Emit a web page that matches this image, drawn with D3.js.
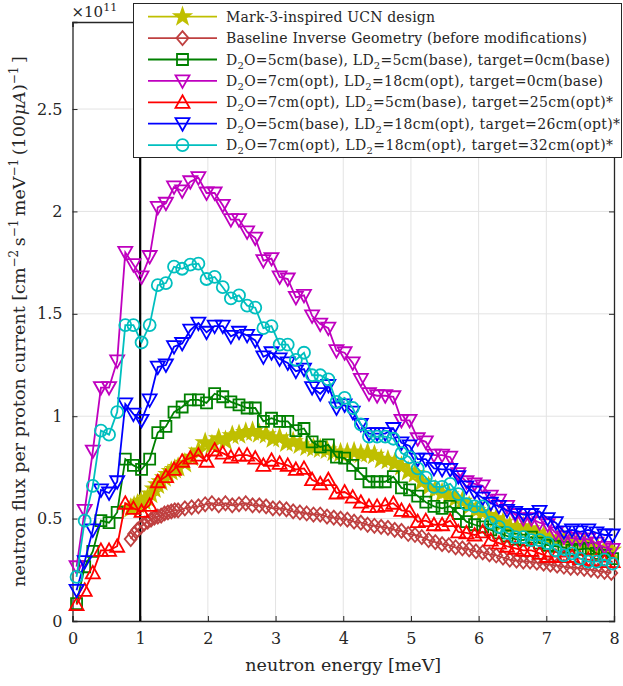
<!DOCTYPE html>
<html><head><meta charset="utf-8">
<script src="https://cdn.jsdelivr.net/npm/d3@7"></script>
<style>
body{margin:0;background:#fff;}
</style></head>
<body><svg id="chart" width="623" height="686"></svg>
<script>
// ---- data (flux in units of 1e11) ----
const energyMain = [0.06,0.18,0.30,0.42,0.54,0.66,0.78,0.90,1.02,1.14,1.26,1.38,1.50,1.62,1.74,1.86,1.98,2.10,2.22,2.34,2.46,2.58,2.70,2.82,2.94,3.06,3.18,3.30,3.42,3.54,3.66,3.78,3.90,4.02,4.14,4.26,4.38,4.50,4.62,4.74,4.86,4.98,5.10,5.22,5.34,5.46,5.58,5.70,5.82,5.94,6.06,6.18,6.30,6.42,6.54,6.66,6.78,6.90,7.02,7.14,7.26,7.38,7.50,7.62,7.74,7.86,7.98];
const energyRef = [0.86,0.91,0.96,1.01,1.06,1.11,1.16,1.21,1.26,1.31,1.36,1.41,1.46,1.51,1.56,1.66,1.76,1.86,1.96,2.06,2.16,2.26,2.36,2.46,2.56,2.66,2.76,2.86,2.96,3.06,3.16,3.26,3.36,3.46,3.56,3.66,3.76,3.86,3.96,4.06,4.16,4.26,4.36,4.46,4.56,4.66,4.76,4.86,4.96,5.06,5.16,5.26,5.36,5.46,5.56,5.66,5.76,5.86,5.96,6.06,6.16,6.26,6.36,6.46,6.56,6.66,6.76,6.86,6.96,7.06,7.16,7.26,7.36,7.46,7.56,7.66,7.76,7.86,7.96];

const mark3 = [0.55,0.56,0.57,0.58,0.585,0.60,0.62,0.645,0.665,0.68,0.70,0.715,0.73,0.74,0.75,0.77,0.80,0.83,0.87,0.86,0.89,0.88,0.905,0.91,0.92,0.925,0.915,0.91,0.89,0.895,0.87,0.875,0.86,0.85,0.845,0.84,0.835,0.825,0.82,0.82,0.825,0.815,0.82,0.81,0.79,0.785,0.77,0.755,0.73,0.72,0.68,0.655,0.64,0.625,0.615,0.60,0.585,0.56,0.54,0.53,0.515,0.50,0.48,0.46,0.46,0.46,0.45,0.43,0.415,0.405,0.395,0.395,0.395,0.39,0.38,0.365,0.355,0.35,0.345];
const baseline = [0.40,0.425,0.445,0.46,0.475,0.485,0.495,0.505,0.51,0.515,0.525,0.53,0.535,0.54,0.54,0.55,0.555,0.56,0.57,0.575,0.565,0.575,0.565,0.57,0.575,0.565,0.565,0.56,0.55,0.55,0.545,0.535,0.53,0.525,0.52,0.52,0.51,0.505,0.50,0.495,0.485,0.48,0.47,0.465,0.46,0.455,0.445,0.44,0.425,0.42,0.41,0.395,0.385,0.375,0.37,0.36,0.355,0.35,0.34,0.335,0.325,0.32,0.31,0.30,0.295,0.29,0.29,0.285,0.28,0.275,0.27,0.265,0.26,0.26,0.255,0.25,0.245,0.24,0.235];
const green = [0.085,0.265,0.34,0.49,0.48,0.53,0.79,0.76,0.74,0.79,0.92,0.95,1.02,1.045,1.08,1.08,1.065,1.11,1.095,1.07,1.055,1.04,1.04,0.975,0.99,0.975,0.975,0.93,0.94,0.875,0.85,0.86,0.80,0.795,0.76,0.72,0.68,0.68,0.68,0.705,0.65,0.64,0.61,0.58,0.56,0.55,0.56,0.525,0.485,0.47,0.46,0.445,0.43,0.415,0.40,0.395,0.41,0.38,0.37,0.365,0.36,0.345,0.35,0.355,0.33,0.32,0.305];
const magenta = [0.265,0.54,0.83,1.14,1.14,1.27,1.80,1.74,1.68,1.78,2.02,2.04,2.12,2.10,2.145,2.165,2.09,2.09,2.03,1.96,1.96,1.90,1.87,1.76,1.77,1.68,1.67,1.58,1.59,1.49,1.45,1.43,1.32,1.31,1.26,1.18,1.11,1.10,1.10,1.095,0.98,0.98,0.89,0.875,0.81,0.81,0.80,0.72,0.68,0.67,0.66,0.61,0.59,0.56,0.52,0.50,0.50,0.48,0.47,0.43,0.41,0.405,0.40,0.40,0.38,0.36,0.35];
const red = [0.08,0.15,0.235,0.345,0.345,0.365,0.575,0.55,0.535,0.565,0.68,0.705,0.74,0.78,0.795,0.81,0.78,0.835,0.82,0.80,0.81,0.81,0.795,0.76,0.785,0.77,0.76,0.74,0.745,0.69,0.67,0.69,0.625,0.63,0.605,0.58,0.56,0.56,0.565,0.575,0.54,0.535,0.485,0.49,0.47,0.47,0.49,0.435,0.43,0.42,0.435,0.395,0.38,0.365,0.355,0.345,0.345,0.33,0.315,0.315,0.315,0.315,0.305,0.30,0.295,0.29,0.29];
const blue = [0.15,0.29,0.445,0.64,0.625,0.68,1.06,1.01,0.98,1.08,1.24,1.25,1.34,1.355,1.42,1.455,1.41,1.44,1.44,1.39,1.41,1.395,1.37,1.29,1.31,1.28,1.26,1.22,1.23,1.14,1.11,1.15,1.04,1.055,1.02,0.96,0.915,0.915,0.915,0.94,0.87,0.855,0.79,0.79,0.745,0.74,0.74,0.705,0.655,0.63,0.60,0.575,0.56,0.54,0.53,0.52,0.52,0.535,0.50,0.48,0.435,0.445,0.435,0.445,0.43,0.42,0.42];
const cyan = [0.215,0.49,0.66,0.93,0.91,1.02,1.445,1.445,1.36,1.445,1.64,1.65,1.73,1.72,1.74,1.745,1.67,1.68,1.63,1.575,1.59,1.54,1.53,1.43,1.44,1.35,1.35,1.275,1.31,1.20,1.20,1.18,1.07,1.09,1.04,0.96,0.90,0.90,0.90,0.89,0.82,0.80,0.745,0.70,0.655,0.655,0.67,0.62,0.57,0.56,0.56,0.48,0.46,0.43,0.41,0.41,0.395,0.395,0.38,0.345,0.32,0.33,0.305,0.29,0.29,0.30,0.28];

const xTicks = [0,1,2,3,4,5,6,7,8];
const yTicks = [0,0.5,1,1.5,2,2.5];
const yTickLabels = ["0","0.5","1","1.5","2","2.5"];
const cutoffEnergy = 1.0;

const seriesNames = [
 "Mark-3-inspired UCN design",
 "Baseline Inverse Geometry (before modifications)",
 "D|2|O=5cm(base), LD|2|=5cm(base), target=0cm(base)",
 "D|2|O=7cm(opt), LD|2|=18cm(opt), target=0cm(base)",
 "D|2|O=7cm(opt), LD|2|=5cm(base), target=25cm(opt)*",
 "D|2|O=5cm(base), LD|2|=18cm(opt), target=26cm(opt)*",
 "D|2|O=7cm(opt), LD|2|=18cm(opt), target=32cm(opt)*"
];
const seriesColors = ["#bfbf00","#bf4040","#008000","#bf00bf","#ff0000","#0000ff","#00bfbf"];
const seriesMarkers = ["star","diamond","square","tridown","triup","tridown","circle"];

const series = [
 {x:energyRef,y:mark3},{x:energyRef,y:baseline},{x:energyMain,y:green},
 {x:energyMain,y:magenta},{x:energyMain,y:red},{x:energyMain,y:blue},{x:energyMain,y:cyan}
].map((s,i)=>({...s,name:seriesNames[i],color:seriesColors[i],marker:seriesMarkers[i]}));

// ---- layout ----
const FONT = "'DejaVu Serif', serif";
const svg = d3.select("#chart");
const L=72.5, R=614, T=22, B=621;
const x = d3.scaleLinear().domain([0,8]).range([L,R]);
const y = d3.scaleLinear().domain([0,2.925]).range([B,T]);

// grid
const grid = svg.append("g");
grid.selectAll("line.gx").data(xTicks.slice(1,-1)).join("line")
 .attr("x1",d=>x(d)).attr("x2",d=>x(d)).attr("y1",T).attr("y2",B)
 .attr("stroke","#e3e3e3").attr("stroke-width",1);
grid.selectAll("line.gy").data(yTicks.slice(1)).join("line")
 .attr("y1",d=>y(d)).attr("y2",d=>y(d)).attr("x1",L).attr("x2",R)
 .attr("stroke","#e3e3e3").attr("stroke-width",1);

// axes
const axCol="#262626";
const gB = svg.append("g").attr("transform",`translate(0,${B})`)
 .call(d3.axisBottom(x).tickValues(xTicks).tickSize(-5).tickPadding(12).tickFormat(d3.format("d")));
const gL = svg.append("g").attr("transform",`translate(${L},0)`)
 .call(d3.axisLeft(y).tickValues(yTicks).tickSize(-5).tickPadding(10).tickFormat((d,i)=>yTickLabels[i]));
const gT = svg.append("g").attr("transform",`translate(0,${T})`)
 .call(d3.axisTop(x).tickValues(xTicks).tickSize(-5).tickFormat(""));
const gR = svg.append("g").attr("transform",`translate(${R},0)`)
 .call(d3.axisRight(y).tickValues(yTicks).tickSize(-5).tickFormat(""));
[gB,gL,gT,gR].forEach(g=>{
 g.attr("font-family",FONT);
 g.select(".domain").attr("stroke",axCol).attr("stroke-width",1.3);
 g.selectAll(".tick line").attr("stroke",axCol).attr("stroke-width",1);
 g.selectAll(".tick text").attr("fill",axCol).attr("font-size",16).attr("font-family",FONT);
});

// cutoff line
svg.append("line").attr("x1",x(cutoffEnergy)).attr("x2",x(cutoffEnergy))
 .attr("y1",y(0)).attr("y2",T).attr("stroke","#000").attr("stroke-width",2.2);

// markers
function markerPath(type){
 const p=d3.path();
 switch(type){
  case "triup": p.moveTo(0,-7);p.lineTo(7,5.5);p.lineTo(-7,5.5);p.closePath();break;
  case "tridown": p.moveTo(0,7);p.lineTo(7,-5.5);p.lineTo(-7,-5.5);p.closePath();break;
  case "square": p.rect(-5.5,-5.5,11,11);break;
  case "diamond": p.moveTo(0,-7);p.lineTo(6,0);p.lineTo(0,7);p.lineTo(-6,0);p.closePath();break;
  case "circle": p.arc(0,0,6,0,2*Math.PI);break;
  case "star": {
   const ro=8.5, ri=3.4;
   for(let k=0;k<10;k++){const r=k%2?ri:ro;const a=-Math.PI/2+k*Math.PI/5;
    const px=r*Math.cos(a), py=r*Math.sin(a); k?p.lineTo(px,py):p.moveTo(px,py);}
   p.closePath();break;}
 }
 return p.toString();
}

const line = d3.line().x(d=>x(d[0])).y(d=>y(d[1]));
series.forEach(s=>{
 const pts = s.x.map((v,i)=>[v,s.y[i]]);
 const g = svg.append("g");
 g.append("path").attr("d",line(pts)).attr("fill","none").attr("stroke",s.color).attr("stroke-width",1.8);
 g.selectAll("path.m").data(pts).join("path").attr("class","m")
  .attr("transform",d=>`translate(${x(d[0])},${y(d[1])})`)
  .attr("d",markerPath(s.marker))
  .attr("fill",s.marker==="star"?s.color:"none")
  .attr("stroke",s.color).attr("stroke-width",1.8);
});

// exponent label
const ex = svg.append("text").attr("x",L-1).attr("y",17).attr("font-size",15).attr("font-family",FONT).attr("fill",axCol);
ex.append("tspan").text("×10");
ex.append("tspan").attr("dy",-6).attr("font-size",11).text("11");

// axis labels
svg.append("text").attr("x",(L+R)/2).attr("y",671).attr("text-anchor","middle").attr("fill",axCol)
 .attr("font-size",17.5).attr("font-family",FONT).text("neutron energy [meV]");
const yl = svg.append("text").attr("transform",`translate(25,${(T+B)/2}) rotate(-90)`).attr("fill",axCol)
 .attr("text-anchor","middle").attr("font-size",17.5).attr("font-family",FONT);
function sup(t,s){t.append("tspan").attr("dy",-7).attr("font-size",12).text(s);t.append("tspan").attr("dy",7).text("\u2009");}
yl.append("tspan").text("neutron flux per proton current [cm");
sup(yl,"−2");
yl.append("tspan").text("s");
sup(yl,"−1");
yl.append("tspan").text("meV");
sup(yl,"−1");
yl.append("tspan").text("(100");
yl.append("tspan").attr("font-style","italic").text("μA");
yl.append("tspan").text(")");
sup(yl,"−1");
yl.append("tspan").text("]");

// legend
const legendWidths = [209,361,384,377,387,394,387];
const lg = svg.append("g");
lg.append("rect").attr("x",133.5).attr("y",3.5).attr("width",488).attr("height",154)
 .attr("fill","#fff").attr("stroke",axCol).attr("stroke-width",1);
series.forEach((s,i)=>{
 const cy = 16.7 + i*21.4;
 lg.append("line").attr("x1",148).attr("x2",217).attr("y1",cy).attr("y2",cy)
  .attr("stroke",s.color).attr("stroke-width",1.8);
 lg.append("path").attr("transform",`translate(182.5,${cy})`).attr("d",markerPath(s.marker))
  .attr("fill",s.marker==="star"?s.color:"none").attr("stroke",s.color).attr("stroke-width",1.8);
 const t = lg.append("text").attr("x",226).attr("y",cy+5).attr("font-size",14).attr("font-family",FONT).attr("fill",axCol);
 s.name.split("|").forEach((part,k)=>{
  if(k%2===1){ t.append("tspan").attr("dy",4).attr("font-size",10).text(part); }
  else { const ts=t.append("tspan").text(part); if(k>0) ts.attr("dy",-4); }
 });
 const w = t.node().getComputedTextLength();
 if (w < legendWidths[i]) t.attr("textLength",legendWidths[i]).attr("lengthAdjust","spacing");
 else t.attr("textLength",legendWidths[i]).attr("lengthAdjust","spacingAndGlyphs");
});
</script></body></html>
